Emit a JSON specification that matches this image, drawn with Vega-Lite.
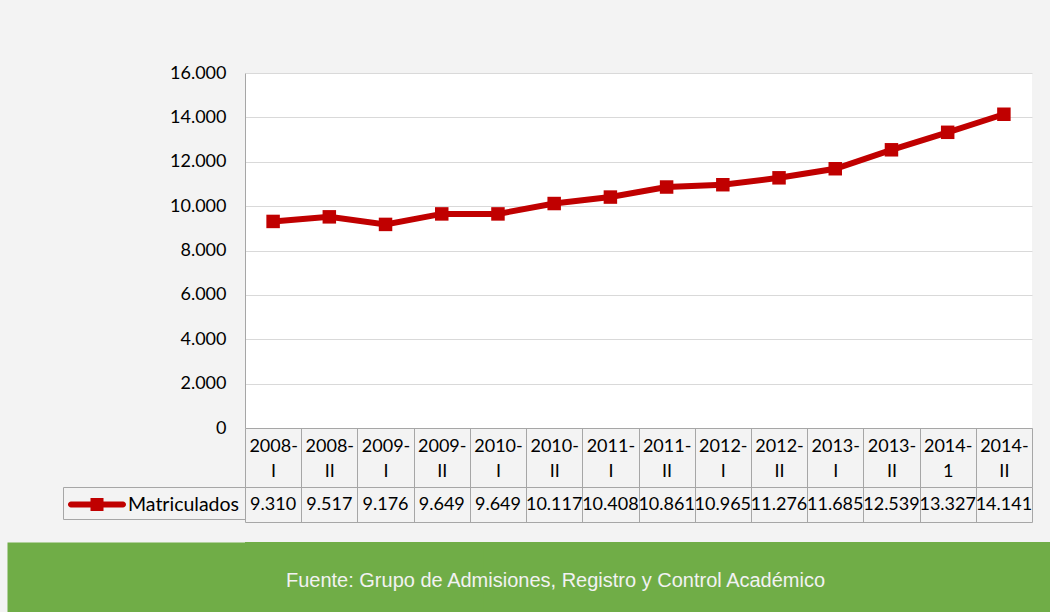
{
  "$schema": "https://vega.github.io/schema/vega-lite/v6.json",
  "background": "#f3f3f3",
  "padding": {"left": 7, "top": 64, "right": 0, "bottom": 0},
  "spacing": 19,
  "config": {
    "locale": {"number": {"decimal": ",", "thousands": ".", "grouping": [3], "currency": ["$", ""]}},
    "view": {"stroke": null},
    "font": "Lato"
  },
  "datasets": {
    "matric": [
      {"periodo": "2008-I", "serie": "Matriculados", "valor": 9310},
      {"periodo": "2008-II", "serie": "Matriculados", "valor": 9517},
      {"periodo": "2009-I", "serie": "Matriculados", "valor": 9176},
      {"periodo": "2009-II", "serie": "Matriculados", "valor": 9649},
      {"periodo": "2010-I", "serie": "Matriculados", "valor": 9649},
      {"periodo": "2010-II", "serie": "Matriculados", "valor": 10117},
      {"periodo": "2011-I", "serie": "Matriculados", "valor": 10408},
      {"periodo": "2011-II", "serie": "Matriculados", "valor": 10861},
      {"periodo": "2012-I", "serie": "Matriculados", "valor": 10965},
      {"periodo": "2012-II", "serie": "Matriculados", "valor": 11276},
      {"periodo": "2013-I", "serie": "Matriculados", "valor": 11685},
      {"periodo": "2013-II", "serie": "Matriculados", "valor": 12539},
      {"periodo": "2014-1", "serie": "Matriculados", "valor": 13327},
      {"periodo": "2014-II", "serie": "Matriculados", "valor": 14141}
    ],
    "fuente": [
      {"texto": "Fuente: Grupo de Admisiones, Registro y Control Académico"}
    ]
  },
  "vconcat": [
    {
      "width": 787,
      "height": 355,
      "view": {"fill": "white"},
      "data": {"name": "matric"},
      "layer": [
        {
          "mark": {"type": "line", "color": "#c00000", "strokeWidth": 6},
          "encoding": {
            "x": {
              "field": "periodo", "type": "nominal", "sort": null,
              "scale": {"type": "band", "paddingInner": 0, "paddingOuter": 0},
              "axis": {
                "title": null, "orient": "bottom", "grid": false,
                "domainColor": "#a6a6a6", "tickColor": "#a6a6a6",
                "tickBand": "extent", "tickSize": 59, "labelPadding": -50,
                "labelAngle": 0, "labelBaseline": "top", "labelFontSize": 18,
                "labelColor": "black", "labelLineHeight": 25,
                "labelExpr": "length(datum.label) > 0 ? [split(datum.label, '-')[0] + '-', split(datum.label, '-')[1]] : ''",
                "labelOverlap": false, "labelFlush": false, "labelBound": false
              }
            },
            "y": {
              "field": "valor", "type": "quantitative",
              "scale": {"domain": [0, 16000]},
              "axis": {
                "title": " ", "titleAngle": 0, "titleX": -238, "titleY": 0,
                "titleAlign": "left", "titleBaseline": "top", "titleColor": "#f3f3f3", "titleFontSize": 8,
                "values": [0, 2000, 4000, 6000, 8000, 10000, 12000, 14000, 16000],
                "format": ",d", "ticks": false, "labelPadding": 19, "labelFontSize": 18,
                "labelColor": "black", "domainColor": "#a6a6a6", "gridColor": "#d9d9d9"
              }
            }
          }
        },
        {
          "mark": {"type": "point", "shape": "square", "filled": true, "size": 182, "opacity": 1},
          "encoding": {
            "x": {
              "field": "periodo", "type": "nominal", "sort": null,
              "scale": {"type": "band", "paddingInner": 0, "paddingOuter": 0},
              "axis": {
                "title": null, "orient": "bottom", "offset": 59, "grid": false,
                "domainColor": "#a6a6a6", "tickColor": "#a6a6a6",
                "tickBand": "extent", "tickSize": 35, "labels": false
              }
            },
            "y": {"field": "valor", "type": "quantitative"},
            "color": {
              "field": "serie", "type": "nominal",
              "scale": {"range": ["#c00000"]},
              "legend": {
                "title": null, "orient": "none", "legendX": -182, "legendY": 414,
                "symbolType": "M-0.76,-0.24H0.8V-0.52H1.84V-0.24H3.4A0.24,0.24 0 0 1 3.4,0.24H1.84V0.52H0.8V0.24H-0.76A0.24,0.24 0 0 1 -0.76,-0.24Z",
                "symbolSize": 625, "symbolStrokeWidth": 0, "symbolFillColor": "#c00000",
                "labelFontSize": 19.5, "labelColor": "black", "labelOffset": 35,
                "padding": 5, "labelLimit": 300, "strokeColor": "#a6a6a6"
              }
            }
          }
        },
        {
          "mark": {"type": "text", "fontSize": 18, "color": "black", "baseline": "middle", "dy": 76.5},
          "encoding": {
            "x": {
              "field": "periodo", "type": "nominal", "sort": null,
              "scale": {"type": "band", "paddingInner": 0, "paddingOuter": 0},
              "axis": {
                "title": null, "orient": "bottom", "offset": 94, "grid": false,
                "domainColor": "#a6a6a6", "ticks": false, "labels": false
              }
            },
            "y": {"value": "height"},
            "text": {"field": "valor", "type": "quantitative", "format": ",d"}
          }
        }
      ],
      "resolve": {"axis": {"x": "independent"}}
    },
    {
      "width": 805,
      "height": 72,
      "view": {"fill": "#70ad47"},
      "data": {"name": "fuente"},
      "mark": {"type": "text", "font": "Liberation Sans", "fontSize": 20, "color": "#f2f2f2", "dx": -92, "dy": 3},
      "encoding": {
        "y": {
          "field": "texto", "type": "nominal",
          "axis": {
            "title": null, "labels": false, "ticks": false, "grid": false,
            "domain": true, "domainColor": "#70ad47", "domainWidth": 476, "domainCap": "butt"
          }
        },
        "text": {"field": "texto", "type": "nominal"}
      }
    }
  ]
}
